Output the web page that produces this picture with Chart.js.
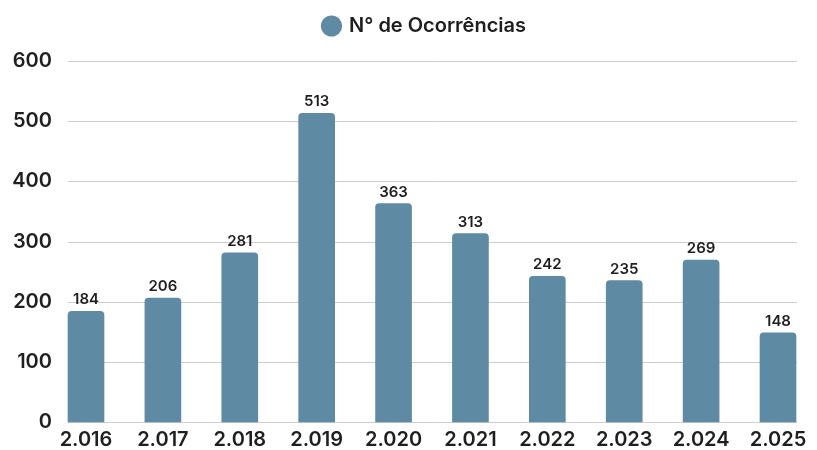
<!DOCTYPE html>
<html lang="pt">
<head>
  <meta charset="UTF-8">
  <title>Nº de Ocorrências</title>
  <script src="https://cdn.jsdelivr.net/npm/chart.js"></script>
  <style>
    html, body {
      margin: 0;
      padding: 0;
      background: #fff;
    }
    canvas {
      display: block;
    }
  </style>
</head>
<body>
  <canvas id="chart" width="817" height="450"></canvas>

<script>
  const anos = ['2.016', '2.017', '2.018', '2.019', '2.020', '2.021', '2.022', '2.023', '2.024', '2.025'];
  const ocorrencias = [184, 206, 281, 513, 363, 313, 242, 235, 269, 148];
  const yTicks = [0, 100, 200, 300, 400, 500, 600];

  const FONT = 'Inter, "Noto Sans", sans-serif';
  const barColor = '#5f8aa3';
  const textColor = '#1f1f1f';

  // gridlines go a bit beyond the first and last bar
  const gridPlugin = {
    id: 'gridLines',
    afterLayout(chart) {
      // legend sits a little right of the plot centre
      chart.legend.left += 36;
      chart.legend.right += 36;
    },
    beforeDatasetsDraw(chart) {
      const { ctx, chartArea, scales } = chart;
      ctx.save();
      ctx.strokeStyle = '#cfcfcf';
      ctx.lineWidth = 1;
      yTicks.forEach(v => {
        const y = Math.round(scales.y.getPixelForValue(v)) + 0.5;
        ctx.beginPath();
        ctx.moveTo(chartArea.left - 18, y);
        ctx.lineTo(chartArea.right + 19, y);
        ctx.stroke();
      });
      ctx.restore();
    }
  };

  // value labels above bars
  const valuePlugin = {
    id: 'valueLabels',
    afterDatasetsDraw(chart) {
      const { ctx } = chart;
      const meta = chart.getDatasetMeta(0);
      ctx.save();
      ctx.font = '600 15px ' + FONT;
      ctx.fillStyle = textColor;
      ctx.textAlign = 'center';
      ctx.textBaseline = 'bottom';
      meta.data.forEach((bar, i) => {
        ctx.fillText(ocorrencias[i], bar.x, bar.y - 4);
      });
      ctx.restore();
    }
  };

  new Chart(document.getElementById('chart'), {
    type: 'bar',
    data: {
      labels: anos,
      datasets: [{
        label: 'N° de Ocorrências',
        data: ocorrencias,
        backgroundColor: barColor,
        barThickness: 36,
        borderRadius: { topLeft: 4, topRight: 4 },
        borderSkipped: 'bottom',
        clip: false
      }]
    },
    options: {
      responsive: false,
      animation: false,
      layout: { padding: { left: 0, right: 39, top: 1, bottom: 0 } },
      plugins: {
        legend: {
          display: true,
          position: 'top',
          labels: {
            usePointStyle: true,
            pointStyle: 'circle',
            boxHeight: 15,
            boxWidth: 15,
            color: textColor,
            font: { family: FONT, size: 20, weight: '600' },
            padding: 15
          }
        },
        tooltip: { enabled: false }
      },
      scales: {
        x: {
          offset: false,
          grid: { display: false, drawTicks: false },
          border: { display: false },
          ticks: {
            color: textColor,
            font: { family: FONT, size: 20, weight: '600' },
            padding: 6,
            maxRotation: 0,
            autoSkip: false
          },
          afterFit: s => { s.height = 28; }
        },
        gap: {
          type: 'linear',
          position: 'top',
          display: true,
          grid: { display: false, drawTicks: false },
          border: { display: false },
          ticks: { display: false },
          afterFit: s => { s.height = 15; }
        },
        y: {
          min: 0,
          max: 600,
          afterBuildTicks: s => { s.ticks = yTicks.map(v => ({ value: v })); },
          grid: { display: false, drawTicks: false },
          border: { display: false },
          ticks: {
            color: textColor,
            font: { family: FONT, size: 20, weight: '600' },
            padding: 34
          },
          afterFit: s => {
            s.width = 86;
            s.paddingTop = 0;
            s.paddingBottom = 0;
          }
        }
      }
    },
    plugins: [gridPlugin, valuePlugin]
  });
</script>
</body>
</html>
